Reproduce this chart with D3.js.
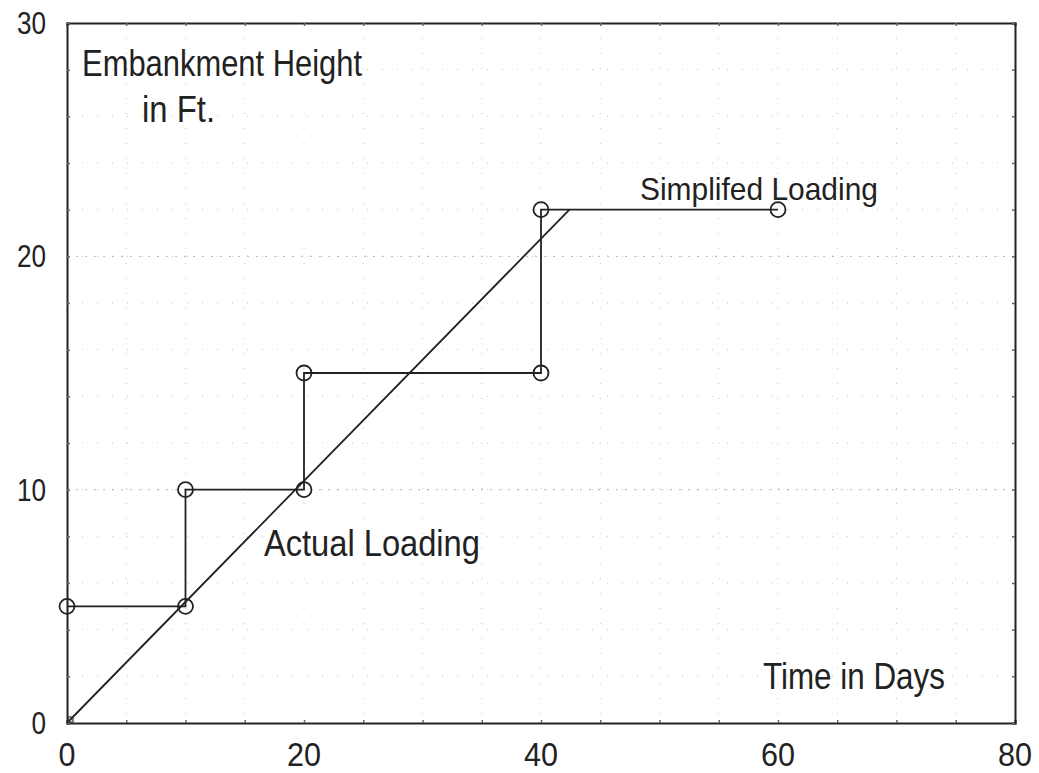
<!DOCTYPE html>
<html><head><meta charset="utf-8">
<script src="https://cdn.jsdelivr.net/npm/d3@7"></script>
<style>body{margin:0;background:#fff}svg{display:block}text{font-family:"Liberation Sans","DejaVu Sans",sans-serif;fill:#222}</style>
</head><body>
<svg id="c" width="1039" height="773"></svg>
<script>
const xTicks = [0, 20, 40, 60, 80];
const yTicks = [0, 10, 20, 30];
const actualX = [0, 10, 10, 20, 20, 40, 40, 60];
const actualY = [5, 5, 10, 10, 15, 15, 22, 22];
const simplifiedX = [0, 42.4];
const simplifiedY = [0, 22];
const labelText = ["Embankment Height", "in Ft.", "Simplifed Loading", "Actual Loading", "Time in Days"];
const labelX = [1.27, 6.33, 48.35, 16.62, 58.73];
const labelY = [27.73, 25.76, 22.41, 7.16, 1.46];

// drawing styles (not data)
const labelFont = [36, 36, 32, 36, 36];
const labelWidth = [280, 73, 238, 216, 182];

const svg = d3.select("#c");
const x = d3.scaleLinear().domain([0, 80]).range([67, 1015]);
const y = d3.scaleLinear().domain([0, 30]).range([723, 23]);

// faint dotted grid
const g = svg.append("g");
g.selectAll("line.gx").data(d3.range(5, 80, 5)).join("line")
  .attr("x1", d => x(d)).attr("x2", d => x(d)).attr("y1", y(30)).attr("y2", y(0))
  .attr("stroke", "#c4c4c4").attr("stroke-width", 1).attr("stroke-dasharray", "1,14");
g.selectAll("line.gy").data(d3.range(2, 30, 2)).join("line")
  .attr("x1", x(0)).attr("x2", x(80)).attr("y1", d => y(d)).attr("y2", d => y(d))
  .attr("stroke", "#c4c4c4").attr("stroke-width", 1).attr("stroke-dasharray", "1,14");
g.selectAll("line.gm").data([10, 20]).join("line")
  .attr("x1", x(0)).attr("x2", x(80)).attr("y1", d => y(d)).attr("y2", d => y(d))
  .attr("stroke", "#b0b0b0").attr("stroke-width", 1).attr("stroke-dasharray", "2,7");

// axes (frame)
const xAxB = d3.axisBottom(x).tickValues(d3.range(0, 81, 5)).tickSize(-3).tickFormat("");
const xAxT = d3.axisTop(x).tickValues(d3.range(0, 81, 5)).tickSize(-3).tickFormat("");
const yAxL = d3.axisLeft(y).tickValues(d3.range(0, 31, 2)).tickSize(-3).tickFormat("");
const yAxR = d3.axisRight(y).tickValues(d3.range(0, 31, 2)).tickSize(-3).tickFormat("");
[[xAxB, `translate(0,${y(0)})`], [xAxT, `translate(0,${y(30)})`], [yAxL, `translate(${x(0)},0)`], [yAxR, `translate(${x(80)},0)`]]
  .forEach(([ax, tr]) => {
    const a = svg.append("g").attr("transform", tr).call(ax);
    a.select(".domain").attr("stroke", "#222").attr("stroke-width", 2);
    a.selectAll(".tick line").attr("stroke", "#666").attr("stroke-width", 1.5);
  });

// tick labels
svg.selectAll("text.xt").data(xTicks).join("text")
  .attr("x", d => x(d)).attr("y", y(0) + 43).attr("text-anchor", "middle")
  .attr("font-size", 33)
  .attr("textLength", d => String(d).length * 17).attr("lengthAdjust", "spacingAndGlyphs")
  .text(d => d);
svg.selectAll("text.yt").data(yTicks).join("text")
  .attr("x", 46).attr("y", d => y(d) + 11).attr("text-anchor", "end")
  .attr("font-size", 31)
  .attr("textLength", d => String(d).length * 14.5).attr("lengthAdjust", "spacingAndGlyphs")
  .text(d => d);

// lines
const line = d3.line().x(d => x(d[0])).y(d => y(d[1]));
const actual = actualX.map((v, i) => [v, actualY[i]]);
const simp = simplifiedX.map((v, i) => [v, simplifiedY[i]]);
svg.append("path").datum(actual).attr("d", line).attr("fill", "none").attr("stroke", "#222").attr("stroke-width", 1.8);
svg.append("path").datum(simp).attr("d", line).attr("fill", "none").attr("stroke", "#222").attr("stroke-width", 1.8);
svg.selectAll("circle.m").data(actual).join("circle")
  .attr("cx", d => x(d[0])).attr("cy", d => y(d[1])).attr("r", 7.5)
  .attr("fill", "none").attr("stroke", "#222").attr("stroke-width", 1.8);
svg.append("rect").attr("x", x(0) + 1).attr("y", y(0) - 6).attr("width", 5).attr("height", 5)
  .attr("fill", "none").attr("stroke", "#333").attr("stroke-width", 1.2);

// annotations
svg.selectAll("text.lab").data(labelText).join("text")
  .attr("x", (d, i) => x(labelX[i])).attr("y", (d, i) => y(labelY[i]))
  .attr("font-size", (d, i) => labelFont[i])
  .attr("textLength", (d, i) => labelWidth[i]).attr("lengthAdjust", "spacingAndGlyphs")
  .text(d => d);
</script>
</body></html>
